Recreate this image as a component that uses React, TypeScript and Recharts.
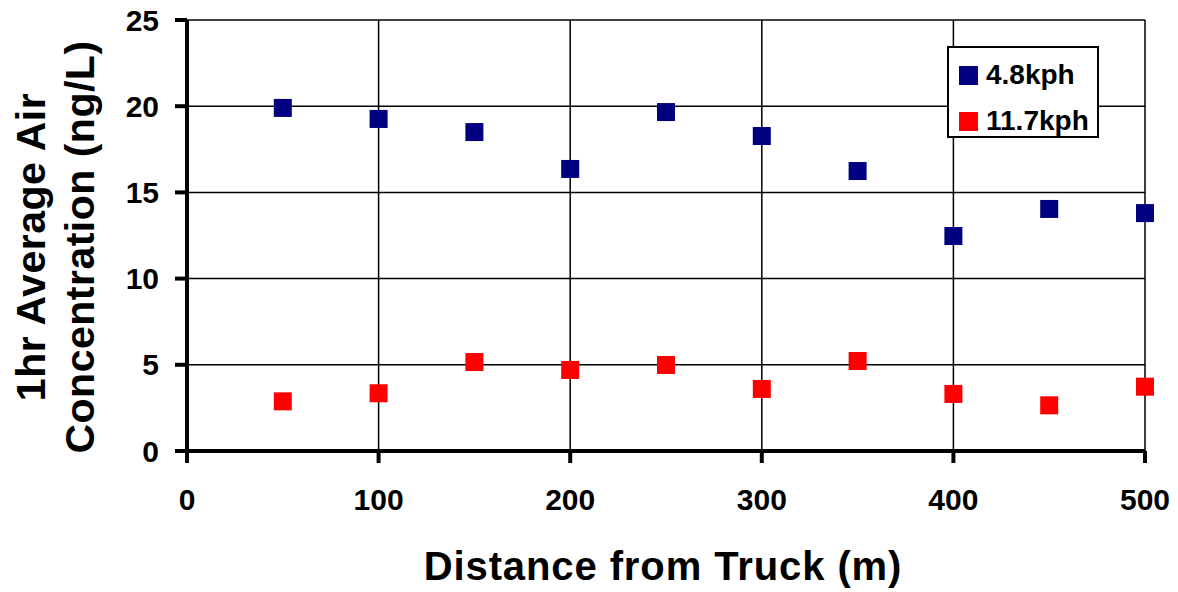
import React from 'react';
import { ScatterChart, Scatter, XAxis, YAxis, CartesianGrid, Label } from 'recharts';

const distances = [50, 100, 150, 200, 250, 300, 350, 400, 450, 500];
const slowValues = [19.9, 19.26, 18.5, 16.36, 19.66, 18.27, 16.24, 12.47, 14.04, 13.8];
const fastValues = [2.88, 3.35, 5.16, 4.7, 4.99, 3.6, 5.22, 3.31, 2.65, 3.73];
const xTicks = [0, 100, 200, 300, 400, 500];
const yTicks = [0, 5, 10, 15, 20, 25];

const slowData = distances.map((d, i) => ({ x: d, y: slowValues[i] }));
const fastData = distances.map((d, i) => ({ x: d, y: fastValues[i] }));

const FONT = '"Liberation Sans", Arial, sans-serif';

const SquareShape = (props: any) => {
    const { cx, cy, fill } = props;
    if (cx == null || cy == null) return null;
    return <rect x={cx - 9} y={cy - 9} width={18} height={18} fill={fill} />;
};

const LegendBox = () => (
    <div style={{
        position: 'absolute', left: 947, top: 46, width: 152, height: 92,
        border: '2px solid #000', background: '#fff', fontFamily: FONT,
        fontWeight: 'bold', fontSize: 28, color: '#000', boxSizing: 'border-box',
    }}>
        {[{ c: '#000080', t: '4.8kph', y: 13 }, { c: '#ff0000', t: '11.7kph', y: 59 }].map(e => (
            <div key={e.t} style={{ position: 'absolute', left: 10, top: e.y, display: 'flex', alignItems: 'center' }}>
                <div style={{ width: 19, height: 19, background: e.c, marginRight: 8 }} />
                <span style={{ lineHeight: '28px' }}>{e.t}</span>
            </div>
        ))}
    </div>
);

const titleStyle = { fontFamily: FONT, fontWeight: 'bold', fontSize: 41, letterSpacing: 0.5 } as const;

const YTitle = () => (
    <g>
        <text x={0} y={0} transform="translate(45, 247) rotate(-90)" textAnchor="middle"
            style={titleStyle} fill="#000">1hr Average Air</text>
        <text x={0} y={0} transform="translate(94, 247) rotate(-90)" textAnchor="middle"
            style={titleStyle} fill="#000">Concentration (ng/L)</text>
    </g>
);

const XTitle = () => (
    <text x={663} y={580} textAnchor="middle" fill="#000"
        style={{ fontFamily: FONT, fontWeight: 'bold', fontSize: 40, letterSpacing: 0.9 }}>
        Distance from Truck (m)
    </text>
);

export default function App() {
    return (
        <div style={{ position: 'absolute', left: 0, top: 0, width: 1178, height: 592, background: '#fff' }}>
            <ScatterChart width={1178} height={592} margin={{ top: 20, right: 33, left: 0, bottom: 0 }}>
                <CartesianGrid stroke="#000" strokeWidth={1.5} />
                <XAxis
                    type="number" dataKey="x" domain={[0, 500]} ticks={xTicks} height={141}
                    axisLine={{ stroke: '#000', strokeWidth: 4 }}
                    tickLine={{ stroke: '#000', strokeWidth: 4 }} tickSize={12}
                    tick={{ fill: '#000', fontFamily: FONT, fontWeight: 'bold', fontSize: 30, dy: 24 }}
                >
                    <Label content={<XTitle />} />
                </XAxis>
                <YAxis
                    type="number" dataKey="y" domain={[0, 25]} ticks={yTicks} width={187}
                    axisLine={{ stroke: '#000', strokeWidth: 4 }}
                    tickLine={{ stroke: '#000', strokeWidth: 4 }} tickSize={12}
                    tick={{ fill: '#000', fontFamily: FONT, fontWeight: 'bold', fontSize: 30, dx: -14 }}
                >
                    <Label content={<YTitle />} />
                </YAxis>
                <Scatter name="4.8kph" data={slowData} fill="#000080" shape={<SquareShape />} isAnimationActive={false} />
                <Scatter name="11.7kph" data={fastData} fill="#ff0000" shape={<SquareShape />} isAnimationActive={false} />
            </ScatterChart>
            <LegendBox />
        </div>
    );
}
